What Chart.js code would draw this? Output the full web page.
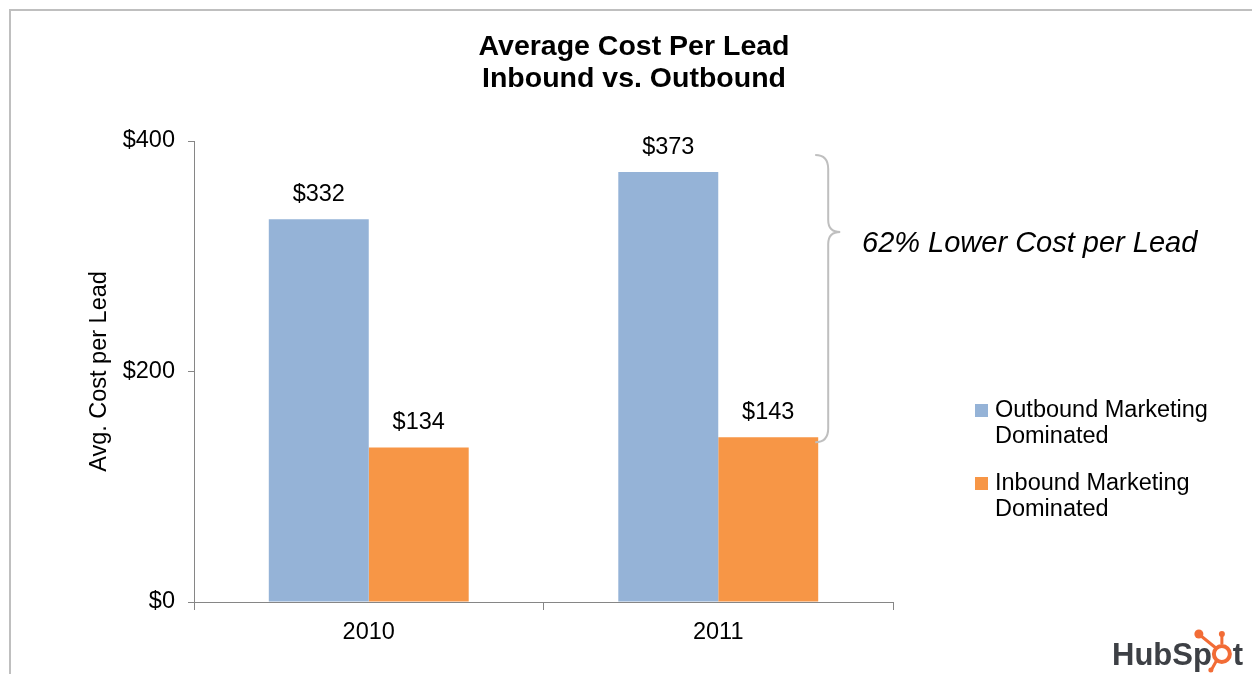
<!DOCTYPE html>
<html>
<head>
<meta charset="utf-8">
<script src="https://cdn.jsdelivr.net/npm/chart.js@4"></script>
<style>
  html, body { margin: 0; padding: 0; background: #fff; }
  #wrap { width: 1252px; height: 674px; position: relative; }
</style>
</head>
<body>
<div id="wrap"><canvas id="cplChart"></canvas></div>
<script>
// Data
const years = ["2010", "2011"];
const outboundCost = [332, 373];
const inboundCost = [134, 143];
const seriesNames = [["Outbound Marketing", "Dominated"], ["Inbound Marketing", "Dominated"]];
const yTicks = [0, 200, 400];
const titleLines = ["Average Cost Per Lead", "Inbound vs. Outbound"];
const noteText = "62% Lower Cost per Lead";

const BLUE = "#95B3D7";
const ORANGE = "#F79646";
const AXIS = "#868686";
const FONT = "'Liberation Sans', Arial, sans-serif";
const FS = 23.5;

// Everything Chart.js has no option for: frame, title, labels, brace, legend, logo
const extras = {
  id: "extras",
  beforeDraw(chart) {
    const ctx = chart.ctx;
    ctx.save();
    ctx.fillStyle = "#fff";
    ctx.fillRect(0, 0, chart.width, chart.height);
    ctx.strokeStyle = "#bfbfbf";
    ctx.lineWidth = 2;
    ctx.beginPath();
    ctx.moveTo(10, chart.height);
    ctx.lineTo(10, 10);
    ctx.lineTo(chart.width, 10);
    ctx.stroke();
    ctx.restore();
  },
  afterDatasetsDraw(chart) {
    const ctx = chart.ctx;
    ctx.save();
    ctx.font = FS + "px " + FONT;
    ctx.fillStyle = "#000";
    ctx.textAlign = "center";
    ctx.textBaseline = "middle";
    chart.data.datasets.forEach((ds, i) => {
      chart.getDatasetMeta(i).data.forEach((bar, j) => {
        ctx.fillText("$" + ds.data[j], bar.x, bar.y - 25);
      });
    });
    ctx.restore();
  },
  afterDraw(chart) {
    const ctx = chart.ctx;
    const ys = chart.scales.y;
    ctx.save();

    // title
    ctx.fillStyle = "#000";
    ctx.textAlign = "center";
    ctx.textBaseline = "middle";
    ctx.font = "bold 28.5px " + FONT;
    titleLines.forEach((t, i) => ctx.fillText(t, 634, 47 + i * 32));

    // brace next to the 2011 bars
    const bar = chart.getDatasetMeta(1).data[1];
    const bx = bar.x + bar.width / 2 + 10;
    const top = ys.getPixelForValue(400) + 14;
    const bottom = ys.getPixelForValue(inboundCost[1]) + 5;
    const tip = 232;
    ctx.strokeStyle = "#bfbfbf";
    ctx.lineWidth = 2;
    ctx.beginPath();
    ctx.moveTo(bx - 13, top);
    ctx.quadraticCurveTo(bx, top, bx, top + 14);
    ctx.lineTo(bx, tip - 12);
    ctx.quadraticCurveTo(bx, tip, bx + 12, tip);
    ctx.quadraticCurveTo(bx, tip, bx, tip + 12);
    ctx.lineTo(bx, bottom - 14);
    ctx.quadraticCurveTo(bx, bottom, bx - 13, bottom);
    ctx.stroke();

    ctx.textAlign = "left";
    ctx.font = "italic 29px " + FONT;
    ctx.fillText(noteText, 862, 244);

    // legend
    ctx.font = FS + "px " + FONT;
    const colors = [BLUE, ORANGE];
    seriesNames.forEach((lines, i) => {
      const y0 = 411 + i * 73;
      ctx.fillStyle = colors[i];
      ctx.fillRect(975, y0 - 7, 13, 13);
      ctx.fillStyle = "#000";
      lines.forEach((l, k) => ctx.fillText(l, 995, y0 + k * 26));
    });

    // HubSpot logo
    ctx.textBaseline = "alphabetic";
    ctx.font = "bold 31px " + FONT;
    ctx.fillStyle = "#3d4045";
    const lx = 1112, ly = 665;
    ctx.fillText("HubSp", lx, ly);
    const w = ctx.measureText("HubSp").width;
    const cx = lx + w + 10, cy = 654;
    ctx.strokeStyle = "#f26c36";
    ctx.fillStyle = "#f26c36";
    ctx.lineWidth = 4;
    ctx.beginPath(); ctx.arc(cx, cy, 8, 0, Math.PI * 2); ctx.stroke();
    ctx.lineWidth = 3;
    ctx.beginPath();
    ctx.moveTo(cx - 6, cy - 6); ctx.lineTo(cx - 22, cy - 19);
    ctx.moveTo(cx, cy - 10); ctx.lineTo(cx, cy - 19);
    ctx.moveTo(cx - 5, cy + 6); ctx.lineTo(cx - 10, cy + 15);
    ctx.stroke();
    ctx.beginPath(); ctx.arc(cx - 23, cy - 20, 4.5, 0, Math.PI * 2); ctx.fill();
    ctx.beginPath(); ctx.arc(cx, cy - 20, 3, 0, Math.PI * 2); ctx.fill();
    ctx.beginPath(); ctx.arc(cx - 11, cy + 16, 2.5, 0, Math.PI * 2); ctx.fill();
    ctx.fillStyle = "#3d4045";
    ctx.fillText("t", cx + 11, ly);

    ctx.restore();
  }
};

const ctx = document.getElementById("cplChart").getContext("2d");
new Chart(ctx, {
  type: "bar",
  data: {
    labels: years,
    datasets: [
      { label: seriesNames[0].join(" "), data: outboundCost, backgroundColor: BLUE },
      { label: seriesNames[1].join(" "), data: inboundCost, backgroundColor: ORANGE },
    ],
  },
  options: {
    responsive: true,
    maintainAspectRatio: false,
    animation: false,
    layout: { padding: { left: 9, top: 141, right: 359, bottom: 0 } },
    datasets: { bar: { categoryPercentage: 0.572, barPercentage: 1 } },
    plugins: {
      legend: { display: false },
      title: { display: false },
      tooltip: { enabled: false },
    },
    scales: {
      x: {
        grid: { drawOnChartArea: false, offset: true, tickLength: 8, color: AXIS },
        border: { color: AXIS, width: 1 },
        ticks: { color: "#000", font: { family: FONT, size: FS }, padding: 8 },
        afterFit(scale) { scale.height = 72; },
      },
      y: {
        min: 0,
        max: 400,
        afterBuildTicks(scale) { scale.ticks = yTicks.map(v => ({ value: v })); },
        grid: { drawOnChartArea: false, tickLength: 6, color: AXIS },
        border: { color: AXIS, width: 1 },
        ticks: {
          color: "#000",
          font: { family: FONT, size: FS },
          padding: 13,
          callback: v => "$" + v,
        },
        title: {
          display: true,
          text: "Avg. Cost per Lead",
          color: "#000",
          font: { family: FONT, size: FS },
          padding: { top: 76, bottom: 0 },
        },
        afterFit(scale) { scale.width = 185; },
      },
    },
  },
  plugins: [extras],
});
</script>
</body>
</html>
